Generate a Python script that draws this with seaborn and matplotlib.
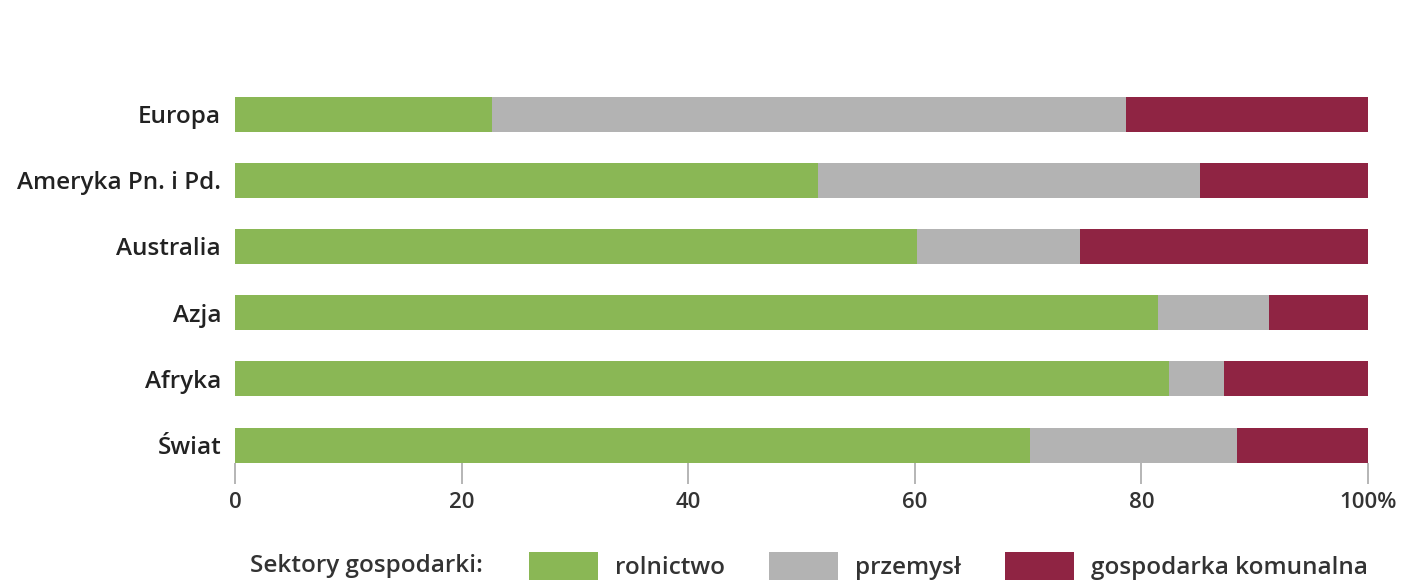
import numpy as np
import pandas as pd
import seaborn as sns
import matplotlib.pyplot as plt
from matplotlib.patches import Patch

# Share of water use by economic sector (%)
regions = ["Europa", "Ameryka Pn. i Pd.", "Australia", "Azja", "Afryka", "Świat"]
rolnictwo = [22.7, 51.5, 60.2, 81.5, 82.4, 70.2]
przemysl = [55.9, 33.7, 14.4, 9.8, 4.9, 18.2]
komunalna = [21.4, 14.8, 25.4, 8.7, 12.7, 11.6]

sector_labels = ["rolnictwo", "przemysł", "gospodarka komunalna"]
legend_title = "Sektory gospodarki:"
xticks = [0, 20, 40, 60, 80, 100]
xtick_labels = ["0", "20", "40", "60", "80", "100%"]

colors = ["#8ab755", "#b3b3b3", "#8f2443"]

sns.set_theme(style="white")
plt.rcParams["font.family"] = ["Open Sans", "DejaVu Sans"]

df = pd.DataFrame({
    "region": regions,
    "rolnictwo": rolnictwo,
    "przemysl": przemysl,
    "komunalna": komunalna,
})
# cumulative ends of each stacked segment
df["end_rol"] = df["rolnictwo"]
df["end_prz"] = df["rolnictwo"] + df["przemysl"]
df["end_kom"] = df["end_prz"] + df["komunalna"]

fig = plt.figure(figsize=(14.01, 5.83), dpi=100)
ax = fig.add_axes([235 / 1401, 1 - 462.6 / 583, (1368 - 235) / 1401, (462.6 - 81) / 583])

bar_w = 0.53
for col, c in zip(["end_kom", "end_prz", "end_rol"], colors[::-1]):
    sns.barplot(data=df, x=col, y="region", orient="h", color=c,
                saturation=1, width=bar_w, ax=ax, linewidth=0)

ax.set_xlim(0, 100)
ax.set_ylim(5 + bar_w / 2, -0.5)
ax.set_xlabel("")
ax.set_ylabel("")
for s in ax.spines.values():
    s.set_visible(False)

ax.set_xticks(xticks)
ax.set_xticklabels(xtick_labels)
ax.tick_params(axis="x", direction="out", length=15, width=1.3, color="#b0b0b0",
               pad=6, labelsize=16, labelcolor="#333333", bottom=True)
ax.tick_params(axis="y", length=0, pad=10, labelsize=17.5, labelcolor="#222222")
for lab in ax.get_yticklabels() + ax.get_xticklabels():
    lab.set_fontweight("semibold")

# legend row
fs_leg = 17.5
fig.text(250 / 1401, 1 - 566 / 583, legend_title, ha="left", va="center",
         fontsize=fs_leg, color="#333333", fontweight="semibold")
handles = [Patch(facecolor=c, edgecolor="none") for c in colors]
leg = fig.legend(handles, sector_labels, ncol=3, loc="center left",
                 bbox_to_anchor=(529 / 1401, 1 - 566 / 583), frameon=False,
                 fontsize=fs_leg, handlelength=2.85, handleheight=1.45,
                 handletextpad=0.7, columnspacing=1.8, borderpad=0, borderaxespad=0)
for t in leg.get_texts():
    t.set_color("#333333")
    t.set_fontweight("semibold")

fig.savefig("out.png", dpi=100)
